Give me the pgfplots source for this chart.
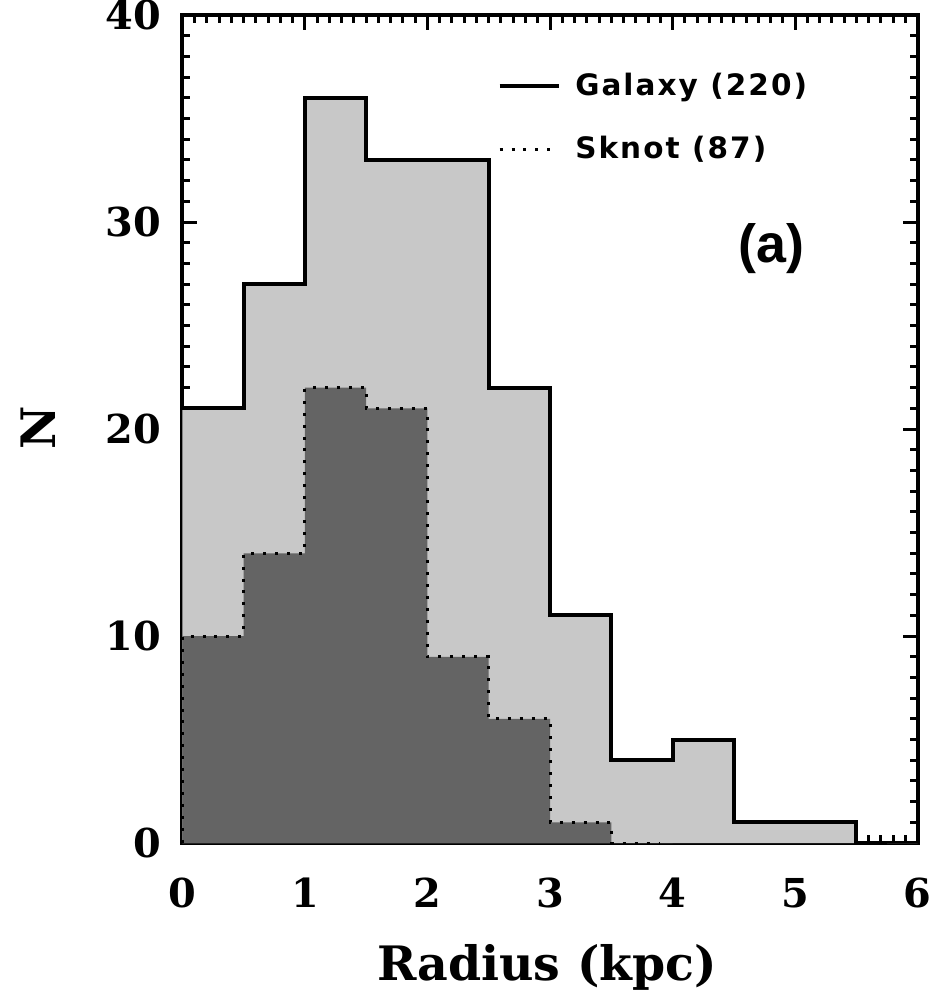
\documentclass[border=0pt]{standalone}
\usepackage{pgfplots}
\pgfplotsset{compat=1.18}
\usepackage{fontspec}
\setmainfont{DejaVu Serif}
\newfontfamily\legfont[LetterSpace=7]{DejaVu Sans}
\newfontfamily\afont{Liberation Sans}
\definecolor{lightfill}{RGB}{200,200,200}
\definecolor{darkfill}{RGB}{100,100,100}
\begin{document}
\begin{tikzpicture}
\begin{axis}[
  scale only axis,
  width=369pt, height=415.5pt,
  xmin=0, xmax=6, ymin=0, ymax=40,
  xtick={0,1,2,3,4,5,6}, ytick={0,10,20,30,40},
  minor x tick num=9, minor y tick num=9,
  tick align=inside,
  major tick length=7.5pt, minor tick length=4pt,
  every tick/.style={black, line width=1.5pt},
  axis line style={line width=2pt},
  /pgf/number format/assume math mode=true,
  ticklabel style={font=\fontsize{20}{22}\selectfont\bfseries},
  xticklabel style={anchor=north, inner sep=0pt, yshift=-17.5pt},
  yticklabel style={anchor=east, inner sep=0pt, xshift=-10.5pt},
  xlabel={Radius (kpc)}, ylabel={N},
  every axis x label/.style={at={(axis cs:2.976,-6.64)}, anchor=base,
    font=\fontsize{23.8}{26}\selectfont\bfseries},
  every axis y label/.style={at={(axis cs:-1.179,20.07)}, anchor=center, rotate=90,
    font=\fontsize{23.8}{26}\selectfont\bfseries},
  clip=false,
  legend style={at={(axis cs:2.52,37.6)}, anchor=north west, draw=none, fill=none,
    font=\legfont\fontsize{14.8}{16}\selectfont\bfseries, row sep=15pt,
    nodes={inner sep=2pt},
    /tikz/every odd column/.append style={column sep=5pt}},
  legend cell align=left,
  legend image code/.code={\draw[#1] (0pt,0pt) -- (30pt,0pt);},
]
\path (axis cs:-1.488,-7.316) rectangle (axis cs:6.146,40.67);
\addplot[const plot, fill=lightfill, draw=none, forget plot] coordinates {
(0,21) (0.5,27) (1,36) (1.5,33) (2,33) (2.5,22) (3,11) (3.5,4) (4,5) (4.5,1) (5,1) (5.5,0) (6,0)} \closedcycle;
\addplot[const plot, fill=darkfill, draw=none, forget plot] coordinates {
(0,10) (0.5,14) (1,22) (1.5,21) (2,9) (2.5,6) (3,1) (3.5,0) (4,0)} \closedcycle;
\addplot[const plot, black, line width=2pt] coordinates {
(0,21) (0.5,27) (1,36) (1.5,33) (2,33) (2.5,22) (3,11) (3.5,4) (4,5) (4.5,1) (5,1) (5.5,0) (5.75,0)};
\addlegendentry{Galaxy (220)}
\addplot[const plot, black, line width=1.5pt, dash pattern=on 1.5pt off 4.5pt] coordinates {
(0,0) (0,10) (0.5,14) (1,22) (1.5,21) (2,9) (2.5,6) (3,1) (3.5,0) (3.9,0)};
\addlegendentry{Sknot (87)}
\node[font=\afont\fontsize{27}{30}\selectfont\bfseries] at (axis cs:4.81,28.74) {(a)};
\end{axis}
\end{tikzpicture}
\end{document}
